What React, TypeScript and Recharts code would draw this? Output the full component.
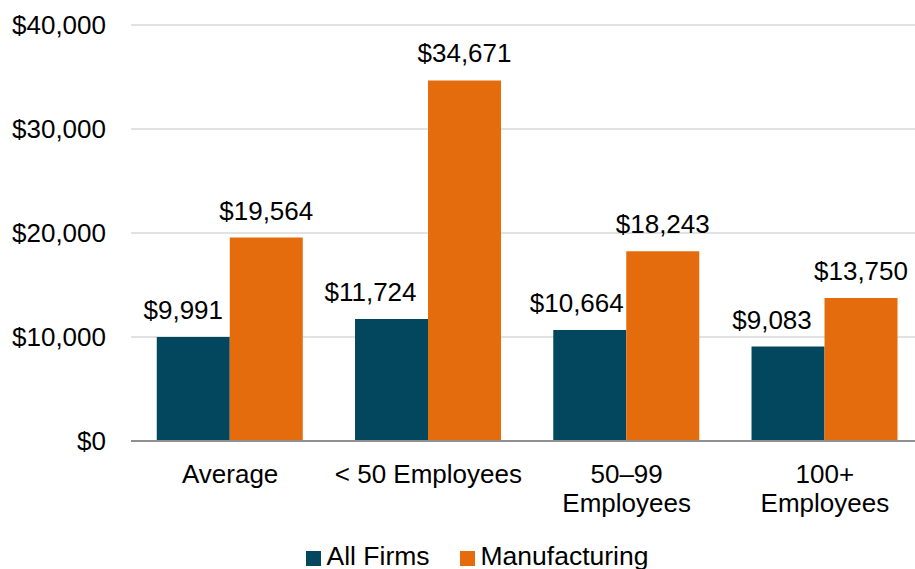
import { BarChart, Bar, XAxis, YAxis, CartesianGrid, Legend, LabelList } from 'recharts';

const categories = ['Average', '< 50 Employees', '50–99\nEmployees', '100+\nEmployees'];
const allFirms = [9991, 11724, 10664, 9083];
const manufacturing = [19564, 34671, 18243, 13750];
const yTicks = [0, 10000, 20000, 30000, 40000];

const data = categories.map((name, i) => ({
  name,
  allFirms: allFirms[i],
  manufacturing: manufacturing[i],
}));

const NAVY = '#03475F';
const ORANGE = '#E46C0C';

// the navy labels sit a bit left of their bars in the original so they clear the orange ones
const navyLabelNudge = [-10, -21, -13, -16];

const money = (v: number) => '$' + v.toLocaleString('en-US');

function CategoryTick({ x, y, payload }: any) {
  const lines = String(payload.value).split('\n');
  return (
    <text x={x} y={y} textAnchor="middle" fill="#000" fontSize={26}>
      {lines.map((line, i) => (
        <tspan key={i} x={x} dy={i === 0 ? 40 : 29}>
          {line}
        </tspan>
      ))}
    </text>
  );
}

const makeLabel = (nudge?: number[]) => (props: any) => {
  const { x, y, width, value, index } = props;
  const dx = nudge ? nudge[index] ?? 0 : 0;
  return (
    <text x={x + width / 2 + dx} y={y - 18} textAnchor="middle" fill="#000" fontSize={26}>
      {money(Number(value))}
    </text>
  );
};

function LegendBox() {
  const items = [
    { label: 'All Firms', color: NAVY },
    { label: 'Manufacturing', color: ORANGE },
  ];
  return (
    <div style={{ display: 'flex', justifyContent: 'center', alignItems: 'center', gap: 30, fontSize: 26.5, lineHeight: '30px', color: '#000', paddingLeft: 30 }}>
      {items.map((it) => (
        <div key={it.label} style={{ display: 'flex', alignItems: 'center', gap: 6 }}>
          <span style={{ width: 15, height: 15, background: it.color, display: 'inline-block', marginTop: 4 }} />
          <span>{it.label}</span>
        </div>
      ))}
    </div>
  );
}

export default function App() {
  return (
    <div style={{ position: 'absolute', left: 0, top: 0, overflow: 'hidden', width: 915, height: 569, fontFamily: '"Liberation Sans", Arial, sans-serif' }}>
      <BarChart
        width={915}
        height={569}
        data={data}
        margin={{ top: 25, right: -9, left: 0, bottom: 0 }}
        barCategoryGap="13%"
        barGap={0}
      >
        <CartesianGrid vertical={false} stroke="#d9d9d9" strokeWidth={1.3} />
        <XAxis
          dataKey="name"
          tick={<CategoryTick />}
          tickLine={false}
          tickSize={0}
          height={98}
          interval={0}
          axisLine={{ stroke: '#8f8f8f', strokeWidth: 2 }}
        />
        <YAxis
          width={131}
          domain={[0, 40000]}
          ticks={yTicks}
          tickFormatter={money}
          axisLine={false}
          tickLine={false}
          tickSize={0}
          tickMargin={25}
          tick={{ fill: '#000', fontSize: 26 }}
        />
        <Legend
          verticalAlign="bottom"
          align="center"
          height={30}
          content={<LegendBox />}
          wrapperStyle={{ bottom: -2 }}
        />
        <Bar dataKey="allFirms" name="All Firms" fill={NAVY} isAnimationActive={false}>
          <LabelList dataKey="allFirms" content={makeLabel(navyLabelNudge)} />
        </Bar>
        <Bar dataKey="manufacturing" name="Manufacturing" fill={ORANGE} isAnimationActive={false}>
          <LabelList dataKey="manufacturing" content={makeLabel()} />
        </Bar>
      </BarChart>
    </div>
  );
}
